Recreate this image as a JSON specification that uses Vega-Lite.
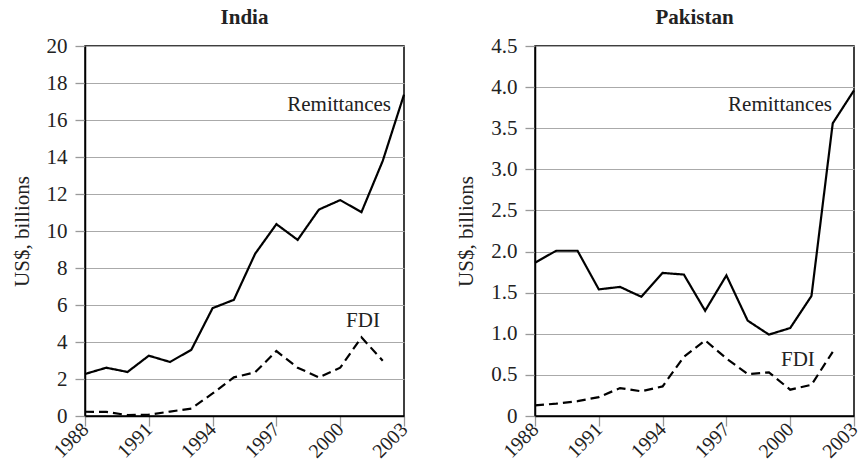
{
  "$schema": "https://vega.github.io/schema/vega-lite/v6.json",
  "background": "white",
  "padding": {"left": 10, "top": 6, "right": 5, "bottom": 0},
  "config": {
    "font": "Liberation Serif",
    "view": {"stroke": "black", "strokeWidth": 1.5},
    "axis": {
      "labelFont": "Liberation Serif", "labelFontSize": 21, "labelColor": "#222", "labelOverlap": false,
      "titleFont": "Liberation Serif", "titleFontSize": 21, "titleFontWeight": "normal", "titleColor": "#222",
      "domainColor": "black", "domainWidth": 1.5,
      "tickColor": "#999", "tickSize": 10, "tickWidth": 1.3,
      "gridColor": "#aaa", "gridWidth": 1.2
    },
    "title": {"font": "Liberation Serif", "fontSize": 21, "fontWeight": "bold", "color": "#222", "frame": "group", "offset": 7},
    "concat": {"spacing": 43}
  },
  "datasets": {
    "india": [
      {"year": 1988, "series": "Remittances", "value": 2.27},
      {"year": 1989, "series": "Remittances", "value": 2.61},
      {"year": 1990, "series": "Remittances", "value": 2.38},
      {"year": 1991, "series": "Remittances", "value": 3.26},
      {"year": 1992, "series": "Remittances", "value": 2.92},
      {"year": 1993, "series": "Remittances", "value": 3.58},
      {"year": 1994, "series": "Remittances", "value": 5.83},
      {"year": 1995, "series": "Remittances", "value": 6.28},
      {"year": 1996, "series": "Remittances", "value": 8.77},
      {"year": 1997, "series": "Remittances", "value": 10.37},
      {"year": 1998, "series": "Remittances", "value": 9.52},
      {"year": 1999, "series": "Remittances", "value": 11.16},
      {"year": 2000, "series": "Remittances", "value": 11.67},
      {"year": 2001, "series": "Remittances", "value": 11.02},
      {"year": 2002, "series": "Remittances", "value": 13.79},
      {"year": 2003, "series": "Remittances", "value": 17.37},
      {"year": 1988, "series": "FDI", "value": 0.23},
      {"year": 1989, "series": "FDI", "value": 0.22},
      {"year": 1990, "series": "FDI", "value": 0.05},
      {"year": 1991, "series": "FDI", "value": 0.07},
      {"year": 1992, "series": "FDI", "value": 0.24},
      {"year": 1993, "series": "FDI", "value": 0.4},
      {"year": 1994, "series": "FDI", "value": 1.22},
      {"year": 1995, "series": "FDI", "value": 2.09},
      {"year": 1996, "series": "FDI", "value": 2.36},
      {"year": 1997, "series": "FDI", "value": 3.51},
      {"year": 1998, "series": "FDI", "value": 2.61},
      {"year": 1999, "series": "FDI", "value": 2.09},
      {"year": 2000, "series": "FDI", "value": 2.61},
      {"year": 2001, "series": "FDI", "value": 4.25},
      {"year": 2002, "series": "FDI", "value": 2.99}
    ],
    "pakistan": [
      {"year": 1988, "series": "Remittances", "value": 1.865},
      {"year": 1989, "series": "Remittances", "value": 2.01},
      {"year": 1990, "series": "Remittances", "value": 2.01},
      {"year": 1991, "series": "Remittances", "value": 1.54},
      {"year": 1992, "series": "Remittances", "value": 1.57},
      {"year": 1993, "series": "Remittances", "value": 1.45},
      {"year": 1994, "series": "Remittances", "value": 1.74},
      {"year": 1995, "series": "Remittances", "value": 1.72},
      {"year": 1996, "series": "Remittances", "value": 1.28},
      {"year": 1997, "series": "Remittances", "value": 1.71},
      {"year": 1998, "series": "Remittances", "value": 1.16},
      {"year": 1999, "series": "Remittances", "value": 0.99},
      {"year": 2000, "series": "Remittances", "value": 1.07},
      {"year": 2001, "series": "Remittances", "value": 1.46},
      {"year": 2002, "series": "Remittances", "value": 3.56},
      {"year": 2003, "series": "Remittances", "value": 3.96},
      {"year": 1988, "series": "FDI", "value": 0.13},
      {"year": 1989, "series": "FDI", "value": 0.15},
      {"year": 1990, "series": "FDI", "value": 0.18},
      {"year": 1991, "series": "FDI", "value": 0.23},
      {"year": 1992, "series": "FDI", "value": 0.34},
      {"year": 1993, "series": "FDI", "value": 0.3},
      {"year": 1994, "series": "FDI", "value": 0.36},
      {"year": 1995, "series": "FDI", "value": 0.72},
      {"year": 1996, "series": "FDI", "value": 0.92},
      {"year": 1997, "series": "FDI", "value": 0.7},
      {"year": 1998, "series": "FDI", "value": 0.51},
      {"year": 1999, "series": "FDI", "value": 0.53},
      {"year": 2000, "series": "FDI", "value": 0.32},
      {"year": 2001, "series": "FDI", "value": 0.38},
      {"year": 2002, "series": "FDI", "value": 0.78}
    ],
    "indiaLabels": [
      {"year": 2002.39, "value": 16.8, "label": "Remittances"},
      {"year": 2001.87, "value": 5.12, "label": "FDI"}
    ],
    "pakistanLabels": [
      {"year": 2001.96, "value": 3.78, "label": "Remittances"},
      {"year": 2001.16, "value": 0.68, "label": "FDI"}
    ]
  },
  "hconcat": [
    {
      "title": "India",
      "width": 319,
      "height": 370,
      "layer": [
        {
          "data": {"name": "india"},
          "mark": {"type": "line", "color": "black", "strokeWidth": 2.2},
          "encoding": {
            "x": {"field": "year", "type": "quantitative",
                  "scale": {"domain": [1988, 2003], "nice": false, "zero": false},
                  "axis": {"values": [1988, 1991, 1994, 1997, 2000, 2003], "tickCount": 6, "format": "d", "title": null, "grid": false, "labelOverlap": false,
                           "labelFontSize": 20, "labelAngle": -45, "labelAlign": "right", "labelBaseline": "middle", "labelPadding": 0}},
            "y": {"field": "value", "type": "quantitative",
                  "scale": {"domain": [0, 20], "nice": false},
                  "axis": {"values": [0, 2, 4, 6, 8, 10, 12, 14, 16, 18, 20], "tickCount": 11, "format": "d", "labelOverlap": false, "title": "US$, billions", "titlePadding": 14, "labelPadding": 8}},
            "strokeDash": {"field": "series", "type": "nominal",
                           "scale": {"domain": ["Remittances", "FDI"], "range": [[1, 0], [9, 5]]}, "legend": null}
          }
        },
        {
          "data": {"name": "indiaLabels"},
          "mark": {"type": "text", "align": "right", "baseline": "middle", "fontSize": 21, "color": "#222", "font": "Liberation Serif"},
          "encoding": {
            "x": {"field": "year", "type": "quantitative"},
            "y": {"field": "value", "type": "quantitative"},
            "text": {"field": "label"}
          }
        }
      ]
    },
    {
      "title": "Pakistan",
      "width": 319,
      "height": 370,
      "layer": [
        {
          "data": {"name": "pakistan"},
          "mark": {"type": "line", "color": "black", "strokeWidth": 2.2},
          "encoding": {
            "x": {"field": "year", "type": "quantitative",
                  "scale": {"domain": [1988, 2003], "nice": false, "zero": false},
                  "axis": {"values": [1988, 1991, 1994, 1997, 2000, 2003], "tickCount": 6, "format": "d", "title": null, "grid": false, "labelOverlap": false,
                           "labelFontSize": 20, "labelAngle": -45, "labelAlign": "right", "labelBaseline": "middle", "labelPadding": 0}},
            "y": {"field": "value", "type": "quantitative",
                  "scale": {"domain": [0, 4.5], "nice": false},
                  "axis": {"values": [0, 0.5, 1, 1.5, 2, 2.5, 3, 3.5, 4, 4.5], "tickCount": 10, "labelOverlap": false, "labelExpr": "datum.value == 0 ? '0' : format(datum.value, '.1f')", "title": "US$, billions", "titlePadding": 14, "labelPadding": 8}},
            "strokeDash": {"field": "series", "type": "nominal",
                           "scale": {"domain": ["Remittances", "FDI"], "range": [[1, 0], [9, 5]]}, "legend": null}
          }
        },
        {
          "data": {"name": "pakistanLabels"},
          "mark": {"type": "text", "align": "right", "baseline": "middle", "fontSize": 21, "color": "#222", "font": "Liberation Serif"},
          "encoding": {
            "x": {"field": "year", "type": "quantitative"},
            "y": {"field": "value", "type": "quantitative"},
            "text": {"field": "label"}
          }
        }
      ]
    }
  ]
}
